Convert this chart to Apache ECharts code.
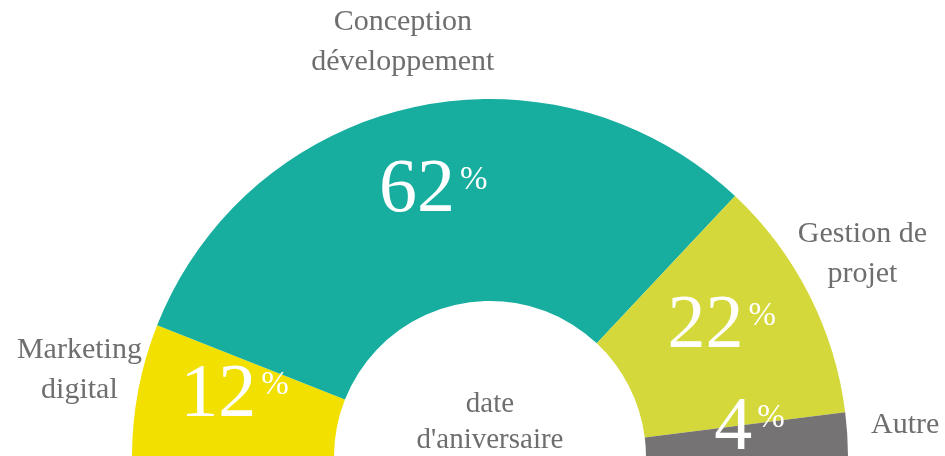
<!DOCTYPE html>
<html>
<head>
<meta charset="utf-8">
<script src="https://cdn.jsdelivr.net/npm/echarts@6/dist/echarts.min.js"></script>
<style>
html,body{margin:0;padding:0;background:#fff;}
#chart{width:945px;height:456px;}
</style>
</head>
<body>
<div id="chart"></div>
<script>
const categories = ['Marketing\ndigital', 'Conception\ndéveloppement', 'Gestion de\nprojet', 'Autre'];
const values = [12, 62, 22, 4];
const centerLabel = "date\nd'aniversaire";

const colors = ['#F1E000', '#17AE9F', '#D4D83A', '#767374'];
const nameOffsets = [[0, -9], [4, -7], [0, -13], [-2, -6]];
const FONT = '"Liberation Serif", "Times New Roman", serif';
const TEXT_GRAY = '#6e6e6e';

const chart = echarts.init(document.getElementById('chart'), null, {renderer: 'canvas'});

const mainData = categories.map((n, i) => ({name: n, value: values[i], itemStyle: {color: colors[i]}}));
const nameData = categories.map((n, i) => ({
  name: n, value: values[i],
  label: {offset: nameOffsets[i]}
}));

chart.setOption({
  animation: false,
  series: [
    {
      type: 'pie',
      center: [490, 457],
      radius: [156, 358],
      startAngle: 180,
      endAngle: 0,
      clockwise: true,
      silent: true,
      itemStyle: {borderWidth: 0},
      label: {
        show: true,
        position: 'inside',
        offset: [0, -12],
        formatter: '{v|{c}}{p|%}',
        rich: {
          v: {fontFamily: FONT, fontSize: 76, lineHeight: 76, color: '#ffffff'},
          p: {fontFamily: FONT, fontSize: 33, lineHeight: 33, color: '#ffffff', verticalAlign: 'top', padding: [11, 0, 0, 5]}
        }
      },
      labelLine: {show: false},
      emphasis: {disabled: true},
      data: mainData
    },
    {
      type: 'pie',
      center: [490, 457],
      radius: [400, 430],
      startAngle: 180,
      endAngle: 0,
      clockwise: true,
      silent: true,
      itemStyle: {color: 'rgba(0,0,0,0)', borderWidth: 0},
      label: {
        show: true,
        position: 'inside',
        formatter: '{b}',
        fontFamily: FONT,
        fontSize: 30,
        lineHeight: 40,
        color: TEXT_GRAY,
        align: 'center'
      },
      labelLine: {show: false},
      emphasis: {disabled: true},
      data: nameData
    }
  ],
  graphic: [{
    type: 'text',
    style: {
      text: centerLabel,
      x: 490, y: 422,
      fontFamily: FONT,
      fontSize: 29,
      lineHeight: 36,
      fill: TEXT_GRAY,
      align: 'center',
      verticalAlign: 'middle'
    }
  }]
});
</script>
</body>
</html>
